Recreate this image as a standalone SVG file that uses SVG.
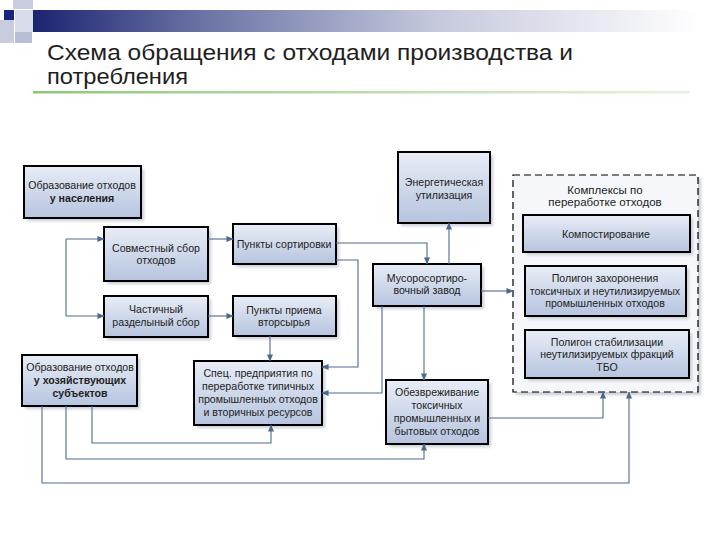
<svg xmlns="http://www.w3.org/2000/svg" width="720" height="540" viewBox="0 0 720 540">
<defs>
<linearGradient id="bar" x1="0" y1="0" x2="1" y2="0">
<stop offset="0" stop-color="#1c2472"/>
<stop offset="0.25" stop-color="#6a72a4"/>
<stop offset="0.6" stop-color="#c4c8dc"/>
<stop offset="1" stop-color="#ffffff"/>
</linearGradient>
<linearGradient id="green" x1="0" y1="0" x2="1" y2="0">
<stop offset="0" stop-color="#8cc878"/>
<stop offset="1" stop-color="#e6f4dc"/>
</linearGradient>
<linearGradient id="boxg" x1="0" y1="0" x2="0" y2="1">
<stop offset="0" stop-color="#e8edf6"/>
<stop offset="1" stop-color="#b6c4df"/>
</linearGradient>
<filter id="sh" x="-10%" y="-10%" width="130%" height="140%">
<feGaussianBlur stdDeviation="1.5"/>
</filter>
<marker id="ar" viewBox="0 0 8 8" refX="7.5" refY="4" markerWidth="7" markerHeight="7" orient="auto" markerUnits="userSpaceOnUse">
<path d="M0,0.5 L8,4 L0,7.5 Z" fill="#4a6a8e"/>
</marker>
</defs>
<style>
.box{fill:url(#boxg);stroke:#000;stroke-width:2}
.shd{fill:#c8ccd6;filter:url(#sh)}
.t{font-family:"Liberation Sans",Arial,sans-serif;font-size:10.6px;fill:#222;text-anchor:middle}
.b{font-weight:bold}
.c{fill:none;stroke:#4f6c8c;stroke-width:1.1;marker-end:url(#ar)}
.cn{fill:none;stroke:#4f6c8c;stroke-width:1.1}
.title{font-family:"Liberation Sans",Arial,sans-serif;font-size:22px;fill:#1e1e1e}
</style>
<rect width="720" height="540" fill="#fff"/>
<!-- decoration -->
<rect x="13" y="0" width="20" height="9" fill="#c8cce0"/>
<rect x="15" y="10" width="18" height="22" fill="#d8dbea"/>
<rect x="0" y="20" width="14" height="23" fill="#c8cce0"/>
<rect x="15" y="32" width="17" height="11" fill="#b8bdd6"/>
<rect x="4" y="10" width="10" height="10" fill="#1a237e"/>
<rect x="33" y="10" width="667" height="22" fill="url(#bar)"/>
<text class="title" x="47" y="60" textLength="526" lengthAdjust="spacingAndGlyphs">Схема обращения с отходами производства и</text>
<text class="title" x="47" y="84" textLength="141" lengthAdjust="spacingAndGlyphs">потребления</text>
<rect x="33" y="91" width="657" height="2.5" fill="url(#green)"/>

<!-- container -->
<g id="complex">
<rect x="516" y="178" width="185" height="217" class="shd"/>
<rect x="513" y="175" width="185" height="217" fill="#f6f7fa" stroke="#000" stroke-width="1.2" stroke-dasharray="7,4"/>
<text class="t" x="605" y="194" style="font-size:11.5px">Комплексы по</text>
<text class="t" x="605" y="206" style="font-size:11.5px">переработке отходов</text>
</g>

<g id="n1"><rect x="27" y="169" width="117" height="52" class="shd"/><rect x="24" y="166" width="117" height="52" class="box"/>
<text class="t" x="82" y="189">Образование отходов</text><text class="t b" x="82" y="202">у населения</text></g>

<g id="n2"><rect x="107" y="230" width="104" height="54" class="shd"/><rect x="104" y="227" width="104" height="54" class="box"/>
<text class="t" x="156" y="252">Совместный сбор</text><text class="t" x="156" y="264">отходов</text></g>

<g id="n3"><rect x="107" y="299" width="104" height="41" class="shd"/><rect x="104" y="296" width="104" height="41" class="box"/>
<text class="t" x="156" y="313">Частичный</text><text class="t" x="156" y="326">разделыный сбор</text></g>

<g id="n4"><rect x="25" y="358" width="115" height="51" class="shd"/><rect x="22" y="355" width="115" height="51" class="box"/>
<text class="t" x="80" y="371">Образование отходов</text><text class="t b" x="80" y="384">у хозяйствующих</text><text class="t b" x="80" y="397">субъектов</text></g>

<g id="n5"><rect x="236" y="227" width="103" height="40" class="shd"/><rect x="233" y="224" width="103" height="40" class="box"/>
<text class="t" x="284" y="248">Пункты сортировки</text></g>

<g id="n6"><rect x="236" y="299" width="103" height="40" class="shd"/><rect x="233" y="296" width="103" height="40" class="box"/>
<text class="t" x="284" y="314">Пункты приема</text><text class="t" x="284" y="326">вторсырья</text></g>

<g id="n7"><rect x="197" y="364" width="128" height="64" class="shd"/><rect x="194" y="361" width="128" height="64" class="box"/>
<text class="t" x="258" y="377">Спец. предприятия по</text><text class="t" x="258" y="390">переработке типичных</text><text class="t" x="258" y="403">промышленных отходов</text><text class="t" x="258" y="416">и вторичных ресурсов</text></g>

<g id="n8"><rect x="401" y="155" width="92" height="71" class="shd"/><rect x="398" y="152" width="92" height="71" class="box"/>
<text class="t" x="444" y="186">Энергетическая</text><text class="t" x="444" y="199">утилизация</text></g>

<g id="n9"><rect x="376" y="267" width="108" height="42" class="shd"/><rect x="373" y="264" width="108" height="42" class="box"/>
<text class="t" x="427" y="282">Мусоросортиро-</text><text class="t" x="427" y="294">вочный завод</text></g>

<g id="n10"><rect x="389" y="383" width="102" height="64" class="shd"/><rect x="386" y="380" width="102" height="64" class="box"/>
<text class="t" x="437" y="396">Обезвреживание</text><text class="t" x="437" y="409">токсичных</text><text class="t" x="437" y="422">промышленных и</text><text class="t" x="437" y="435">бытовых отходов</text></g>

<g id="n12"><rect x="526" y="218" width="167" height="37" class="shd"/><rect x="523" y="215" width="167" height="37" class="box"/>
<text class="t" x="606" y="238">Компостирование</text></g>

<g id="n13"><rect x="528" y="269" width="161" height="50" class="shd"/><rect x="525" y="266" width="161" height="50" class="box"/>
<text class="t" x="605" y="282">Полигон захоронения</text><text class="t" x="605" y="295">токсичных и неутилизируемых</text><text class="t" x="605" y="307">промышленных отходов</text></g>

<g id="n14"><rect x="528" y="333" width="164" height="48" class="shd"/><rect x="525" y="330" width="164" height="48" class="box"/>
<text class="t" x="607" y="346">Полигон стабилизации</text><text class="t" x="607" y="358">неутилизируемых фракций</text><text class="t" x="607" y="371">ТБО</text></g>

<g id="connectors">
<path class="cn" d="M66,239 V316"/>
<path class="c" d="M66,239 H104"/>
<path class="c" d="M66,316 H104"/>
<path class="c" d="M208,239 H233"/>
<path class="c" d="M208,316 H233"/>
<path class="c" d="M336,243 H427 V264"/>
<path class="c" d="M336,260 H358 V367 H322"/>
<path class="c" d="M382,306 V393 H322"/>
<path class="c" d="M270,336 V361"/>
<path class="c" d="M449,264 V223"/>
<path class="c" d="M481,291 H513"/>
<path class="c" d="M424,306 V380"/>
<path class="c" d="M488,418 H603 V392"/>
<path class="c" d="M92,406 V443 H271 V425"/>
<path class="c" d="M66,406 V459 H424 V444"/>
<path class="c" d="M42,406 V483 H629 V392"/>
</g>
</svg>
